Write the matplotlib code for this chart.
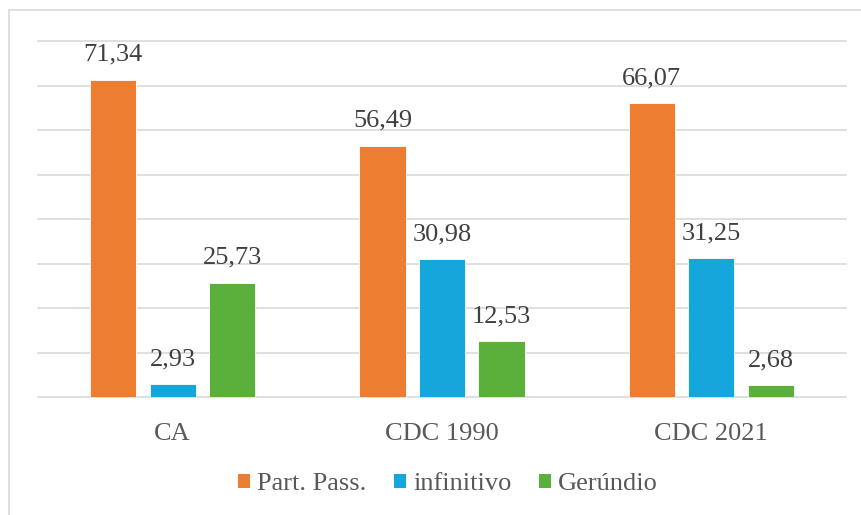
import numpy as np
import matplotlib
matplotlib.use("Agg")
import matplotlib.pyplot as plt
from matplotlib.patches import Rectangle, Patch

plt.rcParams['font.family'] = ['Liberation Serif', 'DejaVu Serif']

categories = ["CA", "CDC 1990", "CDC 2021"]
series = ["Part. Pass.", "infinitivo", "Gerúndio"]
part_pass = [71.34, 56.49, 66.07]
infinitivo = [2.93, 30.98, 31.25]
gerundio = [25.73, 12.53, 2.68]
colors = ["#ED7D31", "#15A6DB", "#5BAF3B"]

W, H = 862, 515
fig = plt.figure(figsize=(W / 100, H / 100), dpi=100)

# outer chart frame (left and top edges visible)
fig.patches.append(Rectangle((9 / W, -0.1), 1.2, 1 - 10 / H + 0.1,
                             transform=fig.transFigure, fill=False,
                             edgecolor="#D9D9D9", lw=1.2))

ax = fig.add_axes([38 / W, (H - 397) / H, 808 / W, 356 / H])

x = np.arange(len(categories))
width = 0.171
offsets = [-0.221, 0.0, 0.221]
values = [part_pass, infinitivo, gerundio]

for vals, off, col, name in zip(values, offsets, colors, series):
    bars = ax.bar(x + off, vals, width, color=col, edgecolor="white",
                  linewidth=0.6, label=name, zorder=3)
    ax.bar_label(bars, labels=[f"{v:.2f}".replace(".", ",") for v in vals],
                 padding=10, fontsize=19, color="#404040")

ax.set_xlim(-0.5, 2.5)
ax.set_ylim(0, 80)
ax.set_yticks(np.arange(0, 81, 10))
ax.set_yticklabels([])
ax.yaxis.grid(True, color="#D9D9D9", lw=1.2, zorder=0)
ax.set_axisbelow(True)
for s in ax.spines.values():
    s.set_visible(False)
ax.tick_params(axis="y", length=0)
ax.set_xticks(x)
ax.set_xticklabels(categories, fontsize=19, color="#595959")
ax.tick_params(axis="x", length=0, pad=19)
for gl in ax.get_ygridlines():
    gl.set_clip_on(False)

handles = [Patch(facecolor=c, edgecolor="none") for c in colors]
fig.legend(handles, series, loc="center", ncol=3, frameon=False,
           bbox_to_anchor=(448 / W, 1 - 484 / H), fontsize=19,
           labelcolor="#595959", handlelength=0.45, handleheight=0.45,
           handletextpad=0.27, columnspacing=1.06)

fig.savefig("out.png", dpi=100)
